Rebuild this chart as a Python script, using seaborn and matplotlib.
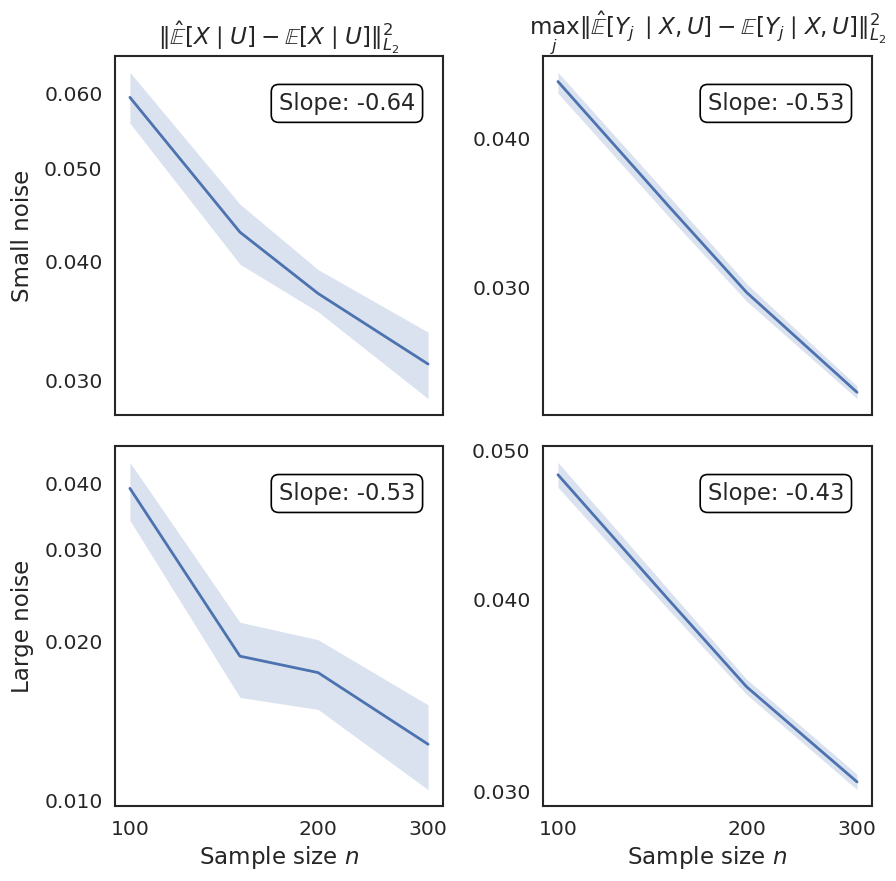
import matplotlib
matplotlib.use("Agg")
import matplotlib.pyplot as plt
from matplotlib.ticker import FixedLocator, NullLocator, FormatStrFormatter
import seaborn as sns

# Sample sizes
n = [100, 150, 200, 300]

# Small noise, error on E[X | U]
small_x_mean = [0.0594, 0.0429, 0.0370, 0.0312]
small_x_lo = [0.0558, 0.0397, 0.0354, 0.0287]
small_x_hi = [0.0631, 0.0459, 0.0392, 0.0337]

# Small noise, max_j error on E[Y_j | X, U]
small_y_mean = [0.0446, 0.0351, 0.0297, 0.0245]
small_y_lo = [0.0436, 0.0344, 0.0292, 0.0242]
small_y_hi = [0.0454, 0.0358, 0.0302, 0.0248]

# Large noise, error on E[X | U]
large_x_mean = [0.0391, 0.0188, 0.0175, 0.0128]
large_x_lo = [0.0340, 0.0157, 0.0149, 0.0105]
large_x_hi = [0.0438, 0.0218, 0.0202, 0.0152]

# Large noise, max_j error on E[Y_j | X, U]
large_y_mean = [0.0482, 0.0400, 0.0351, 0.03045]
large_y_lo = [0.0473, 0.0394, 0.0347, 0.0301]
large_y_hi = [0.0491, 0.0406, 0.0355, 0.0308]

slopes = ["-0.64", "-0.53", "-0.53", "-0.43"]
row_labels = ["Small noise", "Large noise"]
col_titles = [r"$\|\hat{\mathbb{E}}[X \mid U] - \mathbb{E}[X \mid U]\|_{L_2}^2$",
              r"$\max_j \|\hat{\mathbb{E}}[Y_j \mid X, U] - \mathbb{E}[Y_j \mid X, U]\|_{L_2}^2$"]
x_ticks = [100, 200, 300]
y_ticks = [[0.03, 0.04, 0.05, 0.06], [0.03, 0.04],
           [0.01, 0.02, 0.03, 0.04], [0.03, 0.04, 0.05]]

sns.set_theme(style="white")
plt.rcParams.update({
    "axes.edgecolor": "#262626",
    "axes.linewidth": 1.5,
    "xtick.major.size": 0,
    "ytick.major.size": 0,
    "xtick.major.pad": 10,
    "ytick.major.pad": 9,
    "xtick.labelsize": 14.7,
    "ytick.labelsize": 14.7,
    "axes.labelsize": 16.6,
    "axes.titlesize": 16.7,
    "text.color": "#262626",
    "xtick.color": "#262626",
    "ytick.color": "#262626",
    "axes.labelcolor": "#262626",
})
plt.rcParams["font.family"] = ["DejaVu Sans"]

W, H = 896, 881
fig = plt.figure(figsize=(W / 100, H / 100), dpi=100)

# pixel boxes: (left, top, right, bottom)
boxes = [(115, 56, 443, 415), (543, 56, 872, 415),
         (115, 446, 443, 806), (543, 446, 872, 806)]
series = [(small_x_mean, small_x_lo, small_x_hi),
          (small_y_mean, small_y_lo, small_y_hi),
          (large_x_mean, large_x_lo, large_x_hi),
          (large_y_mean, large_y_lo, large_y_hi)]

color = sns.color_palette("deep")[0]

for i, ((l, t, r, b), (mean, lo, hi)) in enumerate(zip(boxes, series)):
    ax = fig.add_axes([l / W, (H - b) / H, (r - l) / W, (b - t) / H])
    row, col = divmod(i, 2)
    ax.fill_between(n, lo, hi, color=color, alpha=0.2, linewidth=0)
    sns.lineplot(x=n, y=mean, ax=ax, color=color, linewidth=2)
    ax.set_xscale("log")
    ax.set_yscale("log")
    ax.xaxis.set_major_locator(FixedLocator(x_ticks))
    ax.xaxis.set_minor_locator(NullLocator())
    ax.xaxis.set_major_formatter(FormatStrFormatter("%d"))
    ax.yaxis.set_major_locator(FixedLocator(y_ticks[i]))
    ax.yaxis.set_minor_locator(NullLocator())
    ax.yaxis.set_major_formatter(FormatStrFormatter("%.3f"))
    if row == 0:
        ax.set_title(col_titles[col], pad=6)
        ax.tick_params(axis="x", labelbottom=False)
    else:
        ax.set_xlabel(r"Sample size $n$")
    if col == 0:
        ax.set_ylabel(row_labels[row], labelpad=7)
    ax.text(0.915, 0.9, f"Slope: {slopes[i]}", transform=ax.transAxes,
            ha="right", va="top", fontsize=16.3,
            bbox=dict(boxstyle="round,pad=0.33", facecolor="white",
                      edgecolor="black", linewidth=1.2))

fig.savefig("out.png", dpi=100)
